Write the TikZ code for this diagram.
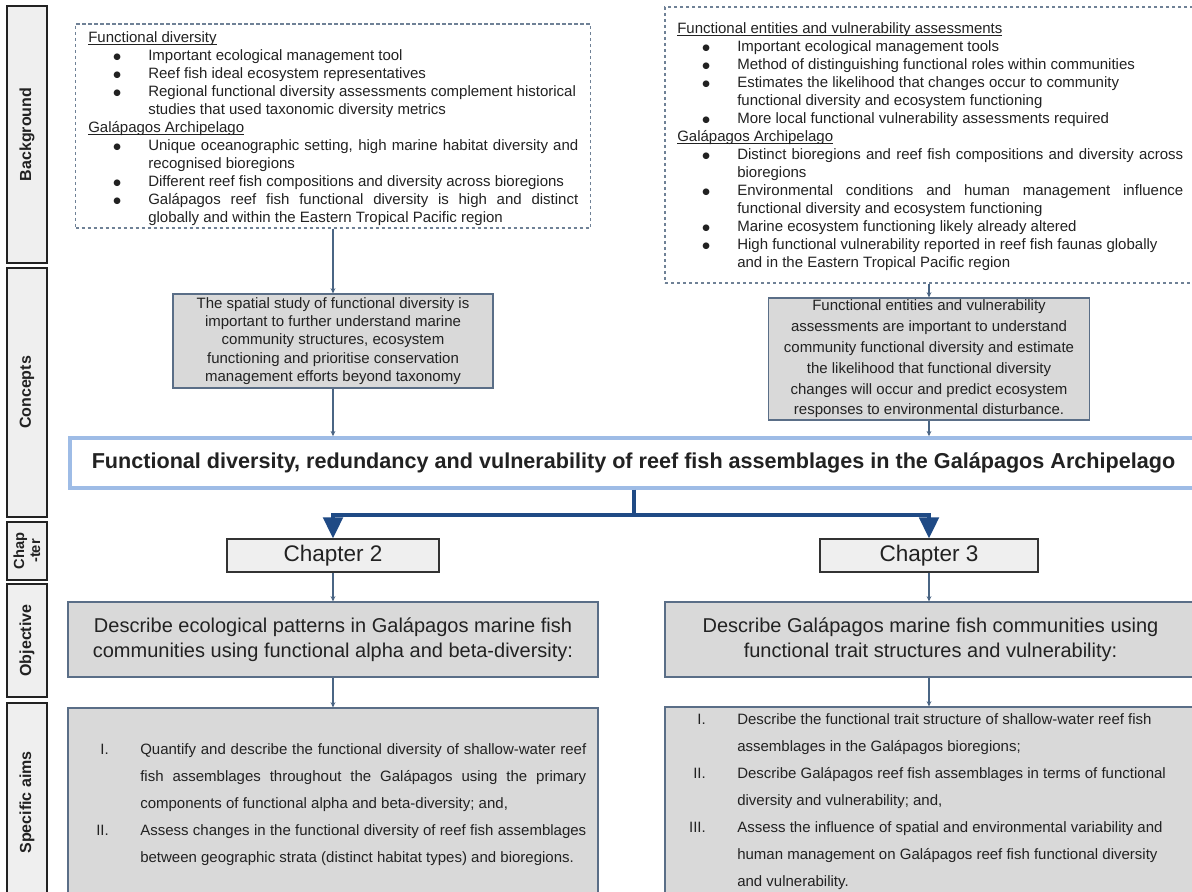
\documentclass[tikz,border=0pt]{standalone}
\usepackage{fontspec}
\setmainfont{Liberation Sans}
\newfontfamily\djv{DejaVu Sans}
\usetikzlibrary{arrows.meta}
\newlength\px \setlength\px{0.75pt}
\definecolor{dashc}{HTML}{6F8196}
\definecolor{cfill}{HTML}{D9D9D9}
\definecolor{cbord}{HTML}{5A6E87}
\definecolor{sidefill}{HTML}{EFEFEF}
\definecolor{sidebd}{HTML}{222222}
\definecolor{chbd}{HTML}{333333}
\definecolor{titlec}{HTML}{9EBCE6}
\definecolor{bigc}{HTML}{1F4A85}
\definecolor{thinc}{HTML}{4A6584}
\definecolor{txtc}{HTML}{222222}
\newcommand{\ulx}[1]{\noindent\setbox0\hbox{#1}\rlap{\rule[-1.3pt]{\wd0}{0.6pt}}\box0}
\newcommand{\bdot}{\raisebox{0.7pt}{\djv\fontsize{6.5}{6.5}\selectfont ●}}
\newcommand{\bitem}[1]{\par{\leftskip=45pt\noindent\llap{\makebox[26.25pt][l]{\bdot}}#1\par}}
\newcommand{\aitem}[2]{\par{\noindent\llap{#1\hspace{23.6pt}}#2\par}}
\tikzset{
 every node/.style={text=txtc},
 side/.style={draw=sidebd, fill=sidefill, line width=1pt, rotate=90, minimum height=40\px, inner sep=0pt, font=\bfseries\fontsize{12}{14}\selectfont, align=center},
 dbox/.style={draw=dashc, line width=0.8pt, dash pattern=on 2.6pt off 1.9pt, fill=white, inner sep=0pt},
 txt/.style={anchor=north west, inner sep=0pt, align=justify, font=\fontsize{11.25}{13.5}\selectfont},
 cbox/.style={draw=cbord, line width=0.8pt, fill=cfill, inner sep=0pt, align=center},
 tbox/.style={draw=titlec, line width=2.6pt, fill=white, inner sep=0pt, font=\bfseries\fontsize{16.2}{19}\selectfont},
 chbox/.style={draw=chbd, line width=0.9pt, fill=sidefill, inner sep=0pt, minimum height=33\px, font=\fontsize{16.9}{20}\selectfont},
 thinarr/.style={draw=thinc, line width=0.8pt, -{Stealth[length=4pt,width=3.6pt]}},
 bigline/.style={draw=bigc, line width=3pt},
 bigarr/.style={bigline, -{Triangle[length=15.75pt,width=14.5pt]}},
}
\begin{document}
\begin{tikzpicture}[x=0.75pt,y=-0.75pt]
\useasboundingbox[fill=white] (0,0) rectangle (1192,892);

% side bar
\node[side, minimum width=257\px] (sBg) at (27,134.5) {Background};
\node[side, minimum width=249\px] (sCo) at (27,392.5) {Concepts};
\node[side, minimum width=58\px, font=\bfseries\fontsize{11}{12}\selectfont] (sCh) at (27,551) {Chap\\-ter};
\node[side, minimum width=113\px] (sOb) at (27,640.5) {Objective};
\node[side, minimum width=199\px] (sSa) at (27,802.5) {Specific aims};

% background boxes
\node[dbox, minimum width=515\px, minimum height=204\px] (bgL) at (333,126) {};
\node[txt, text width=490\px] (bgLt) at (88,31.5) {%
\ulx{Functional diversity}\par
\bitem{Important ecological management tool}
\bitem{Reef fish ideal ecosystem representatives}
\bitem{Regional functional diversity assessments complement historical\\ studies that used taxonomic diversity metrics}
\ulx{Galápagos Archipelago}\par
\bitem{Unique oceanographic setting, high marine habitat diversity and\linebreak recognised bioregions}
\bitem{Different reef fish compositions and diversity across bioregions}
\bitem{Galápagos reef fish functional diversity is high and distinct\linebreak globally and within the Eastern Tropical Pacific region}};

\node[dbox, minimum width=531\px, minimum height=276\px] (bgR) at (930.5,145) {};
\node[txt, text width=506\px] (bgRt) at (677,22.5) {%
\ulx{Functional entities and vulnerability assessments}\par
\bitem{Important ecological management tools}
\bitem{Method of distinguishing functional roles within communities}
\bitem{Estimates the likelihood that changes occur to community\\ functional diversity and ecosystem functioning}
\bitem{More local functional vulnerability assessments required}
\ulx{Galápagos Archipelago}\par
\bitem{Distinct bioregions and reef fish compositions and diversity across\linebreak bioregions}
\bitem{Environmental conditions and human management influence\linebreak functional diversity and ecosystem functioning}
\bitem{Marine ecosystem functioning likely already altered}
\bitem{High functional vulnerability reported in reef fish faunas globally\\ and in the Eastern Tropical Pacific region}};

% concepts
\node[cbox, minimum width=320\px, minimum height=94\px, font=\fontsize{11.25}{13.7}\selectfont] (c1) at (333,341) {The spatial study of functional diversity is\\ important to further understand marine\\ community structures, ecosystem\\ functioning and prioritise conservation\\ management efforts beyond taxonomy};
\node[cbox, minimum width=321\px, minimum height=122\px, font=\fontsize{11.25}{15.6}\selectfont] (c2) at (929,359) {Functional entities and vulnerability\\ assessments are important to understand\\ community functional diversity and estimate\\ the likelihood that functional diversity\\ changes will occur and predict ecosystem\\ responses to environmental disturbance.};

% title
\node[tbox, minimum width=1127\px, minimum height=50\px] (title) at (633.5,463) {Functional diversity, redundancy and vulnerability of reef fish assemblages in the Galápagos Archipelago};

% chapters
\node[chbox, minimum width=212\px] (ch2) at (333,555.5) {Chapter 2};
\node[chbox, minimum width=218\px] (ch3) at (929,555.5) {Chapter 3};

% objectives
\node[cbox, minimum width=530\px, minimum height=75\px, font=\fontsize{15}{18.75}\selectfont] (ob2) at (333,639.5) {Describe ecological patterns in Galápagos marine fish\\ communities using functional alpha and beta-diversity:};
\node[cbox, minimum width=531\px, minimum height=75\px, font=\fontsize{15}{18.75}\selectfont] (ob3) at (930.5,639.5) {Describe Galápagos marine fish communities using\\ functional trait structures and vulnerability:};

% aims
\node[cbox, minimum width=530\px, minimum height=194\px] (ai2) at (333,805) {};
\node[cbox, minimum width=531\px, minimum height=195\px] (ai3) at (930.5,804.5) {};
\node[txt, text width=446\px, font=\fontsize{11.25}{20.25}\selectfont] (ai2t) at (140,727.5) {%
\aitem{I.}{Quantify and describe the functional diversity of shallow-water reef\linebreak fish assemblages throughout the Galápagos using the primary\linebreak components of functional alpha and beta-diversity; and,}
\aitem{II.}{Assess changes in the functional diversity of reef fish assemblages\linebreak between geographic strata (distinct habitat types) and bioregions.}};
\node[txt, text width=446\px, font=\fontsize{11.25}{20.25}\selectfont] (ai3t) at (737,697.5) {%
\aitem{I.}{Describe the functional trait structure of shallow-water reef fish\\ assemblages in the Galápagos bioregions;}
\aitem{II.}{Describe Galápagos reef fish assemblages in terms of functional\\ diversity and vulnerability; and,}
\aitem{III.}{Assess the influence of spatial and environmental variability and\\ human management on Galápagos reef fish functional diversity\\ and vulnerability.}};

% connectors
\draw[thinarr] (bgL.south) -- (c1.north);
\draw[thinarr] (c1.south) -- (c1.south |- title.north);
\draw[thinarr] (bgR.south -| c2.north) -- (c2.north);
\draw[thinarr] (c2.south) -- (c2.south |- title.north);
\coordinate (jn) at (633.5,515);
\draw[bigline] (title.south) -- (jn);
\draw[bigarr] (jn) -| (ch2.north);
\draw[bigarr] (jn) -| (ch3.north);
\draw[thinarr] (ch2.south) -- (ob2.north);
\draw[thinarr] (ob2.south) -- (ai2.north);
\draw[thinarr] (ch3.south) -- (ch3.south |- ob3.north);
\draw[thinarr] (ch3.south |- ob3.south) -- (ch3.south |- ai3.north);
\end{tikzpicture}
\end{document}
